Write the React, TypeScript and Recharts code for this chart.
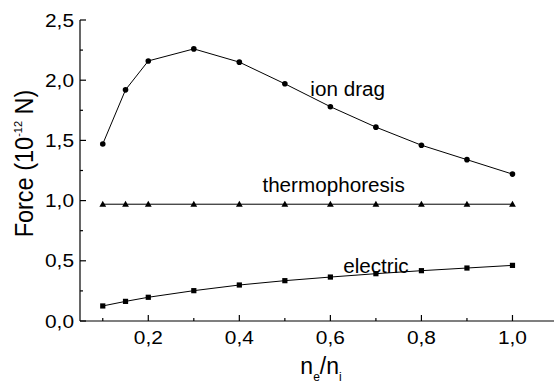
import { LineChart, Line, XAxis, YAxis, ReferenceDot } from "recharts";

// n_e / n_i sample points shared by all three curves
const ratio = [0.1, 0.15, 0.2, 0.3, 0.4, 0.5, 0.6, 0.7, 0.8, 0.9, 1.0];

// forces in units of 1e-12 N
const ionDrag = [1.47, 1.92, 2.16, 2.26, 2.15, 1.97, 1.78, 1.61, 1.46, 1.34, 1.22];
const thermophoresis = [0.97, 0.97, 0.97, 0.97, 0.97, 0.97, 0.97, 0.97, 0.97, 0.97, 0.97];
const electric = [0.125, 0.163, 0.197, 0.252, 0.299, 0.335, 0.365, 0.393, 0.418, 0.44, 0.462];

const xTicks = [0.1, 0.2, 0.3, 0.4, 0.5, 0.6, 0.7, 0.8, 0.9, 1.0];
const yTicks = [0, 0.25, 0.5, 0.75, 1.0, 1.25, 1.5, 1.75, 2.0, 2.25, 2.5];

// curve names, written next to each curve
const curveLabels = [
  { text: "ion drag", x: 0.638, y: 1.87 },
  { text: "thermophoresis", x: 0.607, y: 1.07 },
  { text: "electric", x: 0.7, y: 0.399 },
];

const FONT = '"Liberation Sans", Arial, Helvetica, sans-serif';

const rows = ratio.map((r, i) => ({
  r,
  ion: ionDrag[i],
  thermo: thermophoresis[i],
  elec: electric[i],
}));

const fmt = (v: number) => v.toFixed(1).replace(".", ",");
const isMajorX = (v: number) => Math.round(v * 10) % 2 === 0;
const isMajorY = (v: number) => Math.round(v * 4) % 2 === 0;

// text with a slightly widened face
function Txt({ x, y, sx = 1, anchor = "middle", size = 18, children }: any) {
  return (
    <text
      transform={`translate(${x},${y}) scale(${sx},1)`}
      textAnchor={anchor}
      fontSize={size}
      fontFamily={FONT}
      fill="#000"
    >
      {children}
    </text>
  );
}

// ticks point into the plot; minor ticks are shorter and unlabeled
function BottomTick({ x, y, payload }: any) {
  const major = isMajorX(payload.value);
  return (
    <g>
      <line x1={x} x2={x} y1={y} y2={y - (major ? 6 : 3)} stroke="#000" strokeWidth={1.2} />
      {major && (
        <Txt x={x} y={y + 23} sx={1.16}>
          {fmt(payload.value)}
        </Txt>
      )}
    </g>
  );
}

function TopTick({ x, y, payload }: any) {
  const major = isMajorX(payload.value);
  return <line x1={x} x2={x} y1={y} y2={y + (major ? 6 : 3)} stroke="#000" strokeWidth={1.2} />;
}

function LeftTick({ x, y, payload }: any) {
  const major = isMajorY(payload.value);
  return (
    <g>
      <line x1={x} x2={x + (major ? 6 : 3)} y1={y} y2={y} stroke="#000" strokeWidth={1.2} />
      {major && (
        <Txt x={x - 6} y={y + 6.5} sx={1.16} anchor="end">
          {fmt(payload.value)}
        </Txt>
      )}
    </g>
  );
}

function RightTick({ x, y, payload }: any) {
  const major = isMajorY(payload.value);
  return <line x1={x} x2={x - (major ? 6 : 3)} y1={y} y2={y} stroke="#000" strokeWidth={1.2} />;
}

function YTitle({ viewBox }: any) {
  const x = viewBox.x + 33;
  const y = viewBox.y + viewBox.height / 2 - 7;
  return (
    <text
      transform={`translate(${x},${y}) scale(1.06,1) rotate(-90)`}
      textAnchor="middle"
      fontSize={23.5}
      fontFamily={FONT}
      fill="#000"
    >
      Force (10
      <tspan dy={-10} fontSize={11}>
        -12
      </tspan>
      <tspan dy={10}> N)</tspan>
    </text>
  );
}

function XTitle({ viewBox }: any) {
  const x = viewBox.x + viewBox.width / 2 + 2;
  const y = viewBox.y + 53;
  return (
    <text x={x} y={y} textAnchor="middle" fontSize={23} fontFamily={FONT} fill="#000">
      n
      <tspan dy={7} fontSize={12}>
        e
      </tspan>
      <tspan dy={-7}>/n</tspan>
      <tspan dy={7} fontSize={12}>
        i
      </tspan>
    </text>
  );
}

function CircleDot({ cx, cy }: any) {
  return <circle cx={cx} cy={cy} r={2.8} fill="#000" />;
}

function TriangleDot({ cx, cy }: any) {
  return <path d={`M${cx},${cy - 3.4} L${cx + 3.4},${cy + 2.6} L${cx - 3.4},${cy + 2.6} Z`} fill="#000" />;
}

function SquareDot({ cx, cy }: any) {
  return <rect x={cx - 2.6} y={cy - 2.6} width={5.2} height={5.2} fill="#000" />;
}

function CurveName(text: string) {
  return ({ cx, cy }: any) => (
    <Txt x={cx} y={cy} sx={1.06} size={19.5}>
      {text}
    </Txt>
  );
}

export default function App() {
  return (
    <div
      style={{
        position: "absolute",
        left: 0,
        top: 0,
        width: 554,
        height: 383,
        overflow: "hidden",
        background: "#fff",
      }}
    >
      <LineChart width={560} height={383} data={rows} margin={{ top: 20, right: 2, bottom: 0, left: 0 }}>
        <XAxis
          dataKey="r"
          type="number"
          domain={[0.05, 1.1]}
          allowDataOverflow
          ticks={xTicks}
          tickSize={0}
          tickMargin={0}
          tick={<BottomTick />}
          height={62}
          axisLine={{ stroke: "#000", strokeWidth: 1.2 }}
          label={<XTitle />}
        />
        <XAxis
          xAxisId="top"
          orientation="top"
          dataKey="r"
          type="number"
          domain={[0.05, 1.1]}
          allowDataOverflow
          ticks={xTicks}
          tickSize={0}
          tickMargin={0}
          tick={<TopTick />}
          height={0}
          axisLine={{ stroke: "#000", strokeWidth: 1.2 }}
        />
        <YAxis
          type="number"
          domain={[0, 2.5]}
          allowDataOverflow
          ticks={yTicks}
          tickSize={0}
          tickMargin={0}
          tick={<LeftTick />}
          width={80}
          axisLine={{ stroke: "#000", strokeWidth: 1.2 }}
          label={<YTitle />}
        />
        <YAxis
          yAxisId="right"
          orientation="right"
          type="number"
          domain={[0, 2.5]}
          allowDataOverflow
          ticks={yTicks}
          tickSize={0}
          tickMargin={0}
          tick={<RightTick />}
          width={0}
          axisLine={{ stroke: "#000", strokeWidth: 1.2 }}
        />
        <Line dataKey="ion" stroke="#000" strokeWidth={1} dot={<CircleDot />} isAnimationActive={false} />
        <Line dataKey="thermo" stroke="#000" strokeWidth={1} dot={<TriangleDot />} isAnimationActive={false} />
        <Line dataKey="elec" stroke="#000" strokeWidth={1} dot={<SquareDot />} isAnimationActive={false} />
        {curveLabels.map((c) => (
          <ReferenceDot key={c.text} x={c.x} y={c.y} r={0} shape={CurveName(c.text)} />
        ))}
      </LineChart>
    </div>
  );
}
